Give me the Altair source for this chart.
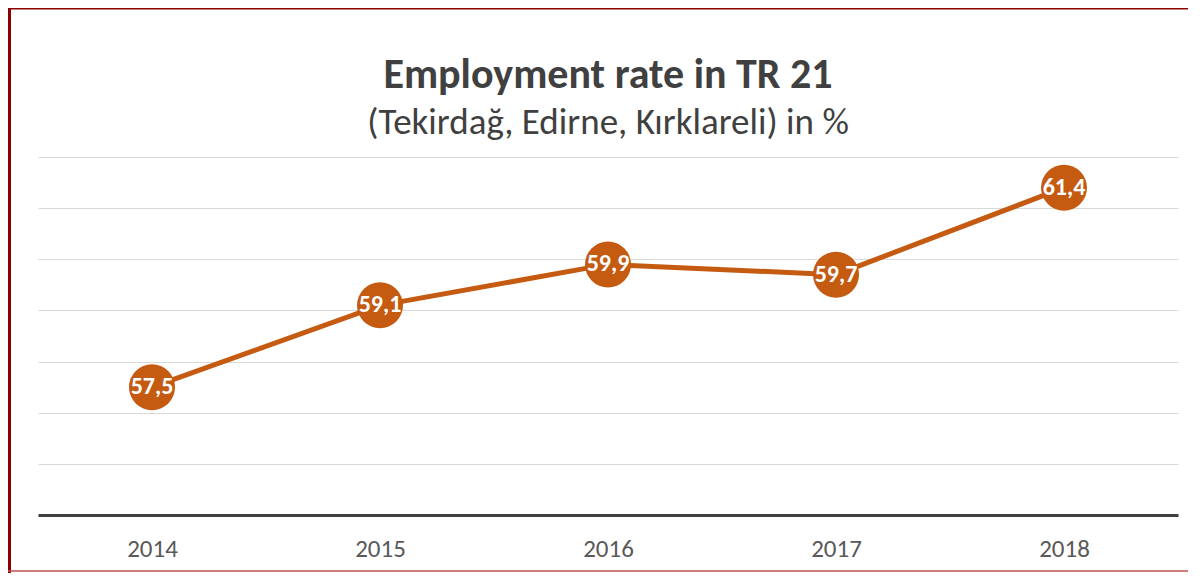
import altair as alt
import pandas as pd

years = ["2014", "2015", "2016", "2017", "2018"]
rates = [57.5, 59.1, 59.9, 59.7, 61.4]
title_text = "Employment rate in TR 21"
subtitle_text = "(Tekirdağ, Edirne, Kırklareli) in %"

df = pd.DataFrame({"year": years, "rate": rates})

FONT = "Carlito, Lato, sans-serif"
ORANGE = "#C55A11"
W, H = 1140, 358

x = alt.X("year:O", title=None, sort=years,
          axis=alt.Axis(labelAngle=0, labelFontSize=25, labelColor="#595959",
                        labelFont=FONT, labelPadding=21, ticks=False,
                        domainColor="#404040", domainWidth=3, grid=False))
y = alt.Y("rate:Q", title=None,
          scale=alt.Scale(domain=[55, 62], nice=False, zero=False),
          axis=alt.Axis(values=[55, 56, 57, 58, 59, 60, 61, 62], labels=False,
                        ticks=False, domain=False, gridColor="#D9D9D9",
                        gridWidth=1))

base = alt.Chart(df)

line = base.mark_line(color=ORANGE, strokeWidth=5).encode(x=x, y=y)
points = base.mark_point(filled=True, color=ORANGE, size=2116, opacity=1).encode(x=x, y=y)
labels = base.transform_calculate(
    lab="replace(format(datum.rate, '.1f'), '.', ',')"
).mark_text(color="white", fontWeight="bold", fontSize=24, font=FONT,
            align="center", baseline="middle").encode(x=x, y=y, text="lab:N")

one = pd.DataFrame({"k": [0]})
bb = alt.Chart(one)
title_mark = bb.mark_text(font=FONT, fontSize=42, fontWeight="bold", color="#404040",
                          align="center", baseline="alphabetic").encode(
    x=alt.value(W / 2), y=alt.value(-69), text=alt.value(title_text))
subtitle_mark = bb.mark_text(font=FONT, fontSize=37, color="#404040",
                             align="center", baseline="alphabetic").encode(
    x=alt.value(W / 2), y=alt.value(-23), text=alt.value(subtitle_text))
left_border = bb.mark_rule(color="#8B0000", strokeWidth=4).encode(
    x=alt.value(-29), y=alt.value(-150), y2=alt.value(418))
top_border = bb.mark_rule(color="#8B0000", strokeWidth=2).encode(
    x=alt.value(-31), x2=alt.value(1160), y=alt.value(-148.5))
bottom_border = bb.mark_rule(color="#C0504D", strokeWidth=1.5).encode(
    x=alt.value(-31), x2=alt.value(1160), y=alt.value(414))

chart = alt.layer(line, points, labels, title_mark, subtitle_mark,
                  left_border, top_border, bottom_border).properties(
    width=W, height=H,
    background="white",
    autosize=alt.AutoSizeParams(type="none"),
    padding={"left": 30, "top": 149, "right": 10, "bottom": 58},
).configure_view(strokeWidth=0)

chart.save("out.html", embed_options={"renderer": "svg", "actions": False})
